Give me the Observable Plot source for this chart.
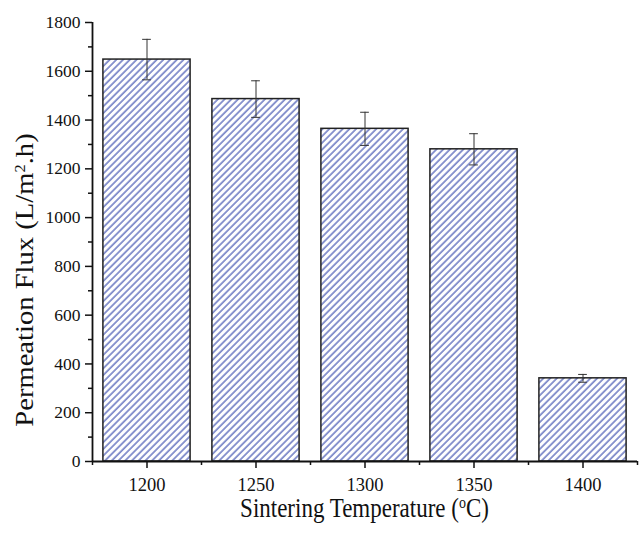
<!DOCTYPE html>
<html><head><meta charset="utf-8">
<script src="https://cdn.jsdelivr.net/npm/d3@7"></script>
<script src="https://cdn.jsdelivr.net/npm/@observablehq/plot@0.6"></script>
<style>body{margin:0;background:#fff}</style>
</head><body><div id="chart"></div>
<script>
const temperatures = [1200, 1250, 1300, 1350, 1400];
const flux = [1648, 1486, 1364, 1280, 341];
const fluxError = [83, 75, 68, 64, 16];
const yMajorTicks = [0, 200, 400, 600, 800, 1000, 1200, 1400, 1600, 1800];
const yMinorTicks = [100, 300, 500, 700, 900, 1100, 1300, 1500, 1700];
const xMajorTicks = [1200, 1250, 1300, 1350, 1400];
const xMinorTicks = [1175, 1225, 1275, 1325, 1375, 1425];
const xDomain = [1175, 1425];
const yDomain = [0, 1800];
const yLabel = ["Permeation Flux (L/m", "2", ".h)"];
const xLabel = ["Sintering Temperature (", "o", "C)"];

const data = temperatures.map((t, i) => ({t, flux: flux[i], err: fluxError[i]}));
const half = 20, cap = 2;
const FONT = "'Liberation Serif', 'Times New Roman', serif";

const plot = Plot.plot({
  width: 643, height: 533,
  marginLeft: 92, marginRight: 6, marginTop: 22, marginBottom: 72,
  style: {fontFamily: FONT, fontSize: "17.5px", color: "#111", background: "#fff"},
  x: {domain: xDomain},
  y: {domain: yDomain},
  marks: [
    Plot.rectY(data, {x1: d => d.t - half, x2: d => d.t + half, y1: 0, y2: "flux", fill: "url(#hatch)", stroke: "#222", strokeWidth: 1.5}),
    Plot.ruleX(data, {x: "t", y1: d => d.flux - d.err, y2: d => d.flux + d.err, stroke: "#333", strokeWidth: 1}),
    Plot.ruleY(data, {y: d => d.flux + d.err, x1: d => d.t - cap, x2: d => d.t + cap, stroke: "#333", strokeWidth: 1}),
    Plot.ruleY(data, {y: d => d.flux - d.err, x1: d => d.t - cap, x2: d => d.t + cap, stroke: "#333", strokeWidth: 1}),
    Plot.axisY({ticks: yMajorTicks, tickSize: 7, tickPadding: 5, label: null, strokeWidth: 1.5, fontSize: 17.5, tickFormat: d => String(d)}),
    Plot.axisY({ticks: yMinorTicks, tickSize: 4, text: null, label: null, strokeWidth: 1.5}),
    Plot.axisX({ticks: xMajorTicks, tickSize: 7, tickPadding: 9, label: null, strokeWidth: 1.5, fontSize: 18.5, tickFormat: d => String(d)}),
    Plot.axisX({ticks: xMinorTicks, tickSize: 4, text: null, label: null, strokeWidth: 1.5}),
    Plot.ruleX([xDomain[0]], {stroke: "#111", strokeWidth: 1.8}),
    Plot.ruleY([yDomain[0]], {stroke: "#111", strokeWidth: 1.8})
  ]
});

const svg = d3.select(plot);
const defs = svg.insert("defs", ":first-child");
const pat = defs.append("pattern").attr("id", "hatch").attr("patternUnits", "userSpaceOnUse")
  .attr("width", 4.75).attr("height", 10).attr("patternTransform", "rotate(45)");
pat.append("rect").attr("width", 4.75).attr("height", 10).attr("fill", "#fff");
pat.append("line").attr("x1", 1).attr("y1", 0).attr("x2", 1).attr("y2", 10)
  .attr("stroke", "#2f43aa").attr("stroke-width", 1.1);

const xs = plot.scale("x");
const cx = (xs.apply(xDomain[0]) + xs.apply(xDomain[1])) / 2;
function sup(t, parts, supSize) {
  t.append("tspan").text(parts[0]);
  t.append("tspan").attr("baseline-shift", "super").attr("font-size", supSize).text(parts[1]);
  t.append("tspan").text(parts[2]);
}
const tx = svg.append("text").attr("transform", `translate(${cx},517) scale(1,1.15)`).attr("text-anchor", "middle")
  .attr("font-family", FONT).attr("font-size", "23px").attr("fill", "#111");
sup(tx, xLabel, "14px");
const ty = svg.append("text").attr("transform", `translate(33,280) rotate(-90) scale(1.1,1)`).attr("text-anchor", "middle")
  .attr("font-family", FONT).attr("font-size", "26px").attr("fill", "#111");
sup(ty, yLabel, "15px");

document.getElementById("chart").append(plot);
</script>
</body></html>
